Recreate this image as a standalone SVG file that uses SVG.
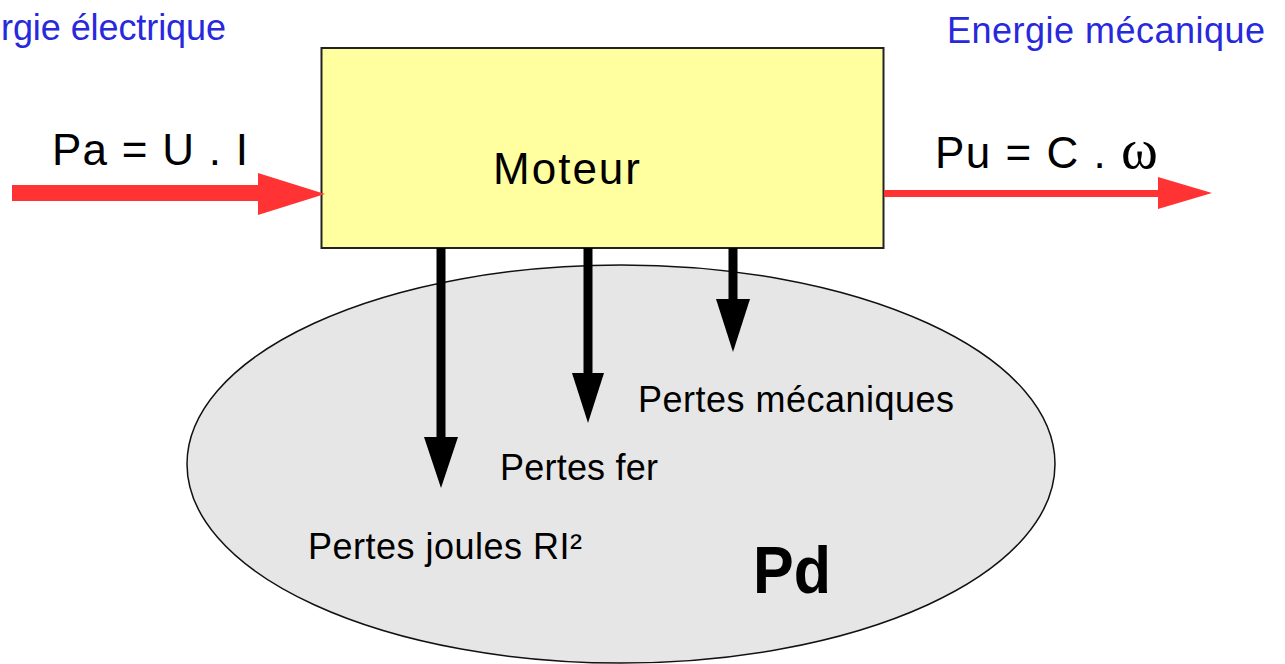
<svg xmlns="http://www.w3.org/2000/svg" width="1285" height="664" viewBox="0 0 1285 664">
<style>
.lbl{font-family:"Liberation Sans",Arial,sans-serif;fill:#000}
.blue{font-family:"Liberation Sans",Arial,sans-serif;fill:#2828dc;font-size:36px}
.red{fill:#ff3333}
.blk{fill:#000}
</style>
<rect x="0" y="0" width="1285" height="664" fill="#ffffff"/>
<g id="pertes">
<ellipse cx="621" cy="464" rx="434" ry="199" fill="#e6e6e6" stroke="#111" stroke-width="1.5"/>
<text class="lbl" x="638" y="412" font-size="36" textLength="316">Pertes mécaniques</text>
<text class="lbl" x="500" y="480" font-size="36" textLength="158">Pertes fer</text>
<text class="lbl" x="308" y="559" font-size="36" textLength="274">Pertes joules RI²</text>
<text class="lbl" x="753" y="593" font-size="66" font-weight="bold" textLength="78" lengthAdjust="spacingAndGlyphs">Pd</text>
</g>
<g id="moteur">
<rect x="321.5" y="48" width="562" height="200" fill="#ffffa0" stroke="#222" stroke-width="2"/>
<text class="lbl" x="493" y="184" font-size="44" textLength="147">Moteur</text>
</g>
<g id="labels">
<text class="blue" x="1" y="40" textLength="225">rgie électrique</text>
<text class="blue" x="947" y="43" textLength="318">Energie mécanique</text>
<text class="lbl" x="52" y="165" font-size="44" textLength="196">Pa = U . I</text>
<text class="lbl" x="935" y="168" font-size="44" letter-spacing="1.5">Pu = C .<tspan x="1121" font-family="Liberation Serif,serif" font-size="56">ω</tspan></text>
</g>
<g id="connectors">
<rect class="red" x="12" y="185" width="248" height="16"/>
<polygon class="red" points="258,173 325,194 258,215"/>
<rect class="red" x="884" y="190" width="276" height="7"/>
<polygon class="red" points="1158,177 1212,193 1158,209"/>
<rect class="blk" x="436.5" y="248" width="9" height="191"/>
<polygon class="blk" points="424,437 458,437 441,488"/>
<rect class="blk" x="583.5" y="248" width="9" height="127"/>
<polygon class="blk" points="572,373 604,373 588,423"/>
<rect class="blk" x="728.5" y="248" width="9" height="53"/>
<polygon class="blk" points="716,299 750,299 733,352"/>
</g>
</svg>
